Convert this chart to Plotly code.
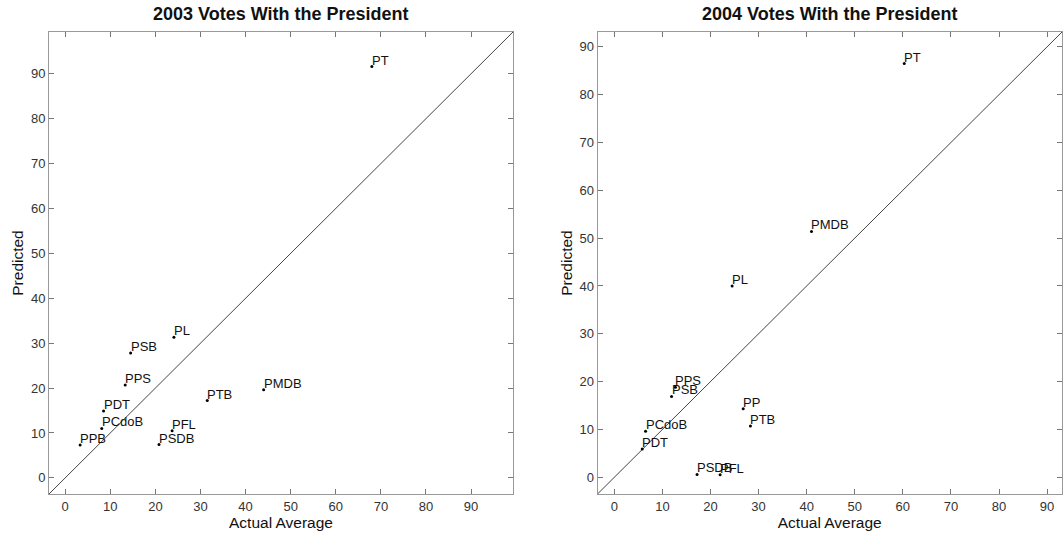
import plotly.graph_objects as go

# 2003 data
parties_2003 = ["PT", "PL", "PSB", "PPS", "PDT", "PCdoB", "PPB", "PSDB", "PFL", "PTB", "PMDB"]
actual_2003 = [68.0, 24.1, 14.5, 13.3, 8.5, 8.1, 3.3, 20.8, 23.7, 31.5, 44.0]
pred_2003 = [91.6, 31.3, 27.8, 20.7, 14.9, 11.0, 7.3, 7.4, 10.5, 17.2, 19.6]

# 2004 data
parties_2004 = ["PT", "PMDB", "PL", "PPS", "PSB", "PP", "PTB", "PCdoB", "PDT", "PSDB", "PFL"]
actual_2004 = [60.3, 41.0, 24.5, 12.7, 11.9, 26.8, 28.3, 6.5, 5.8, 17.2, 22.0]
pred_2004 = [86.5, 51.4, 40.0, 18.8, 16.9, 14.3, 10.7, 9.6, 5.9, 0.6, 0.5]

range_2003 = [-3.6, 99.3]
range_2004 = [-3.5, 93.1]
tick_vals = [0, 10, 20, 30, 40, 50, 60, 70, 80, 90]

titles = ["2003 Votes With the President", "2004 Votes With the President"]

FONT = "Liberation Sans, Arial, sans-serif"
W, H = 1063, 535
ML, MR, MT, MB = 49, 1, 32, 41
PW = W - ML - MR

fig = go.Figure()

for i, (names, xs, ys, rng) in enumerate([
    (parties_2003, actual_2003, pred_2003, range_2003),
    (parties_2004, actual_2004, pred_2004, range_2004),
]):
    xa = "x" if i == 0 else "x2"
    ya = "y" if i == 0 else "y2"
    fig.add_trace(go.Scatter(
        x=rng, y=rng, mode="lines", xaxis=xa, yaxis=ya,
        line=dict(color="#444444", width=1), hoverinfo="skip", showlegend=False,
    ))
    fig.add_trace(go.Scatter(
        x=xs, y=ys, mode="markers", xaxis=xa, yaxis=ya,
        marker=dict(color="black", size=3),
        showlegend=False, text=names,
    ))
    for n, xv, yv in zip(names, xs, ys):
        fig.add_annotation(
            x=xv, y=yv, xref=xa, yref=ya, text=n, showarrow=False,
            xanchor="left", yanchor="bottom", xshift=-2, yshift=-3,
            font=dict(family=FONT, size=13, color="#111111"),
        )

axis_common = dict(
    showgrid=False, zeroline=False, showline=True, linecolor="#999999", linewidth=1,
    mirror="ticks", ticks="inside", ticklen=5, tickcolor="#777777", automargin=False,
    tickvals=tick_vals, tickfont=dict(family=FONT, size=13, color="#333333"),
)

dom_x1 = [0, (513 - ML) / PW]
dom_x2 = [(597.5 - ML) / PW, 1]

title_font = dict(family=FONT, size=15.5, color="#111111")

fig.update_layout(
    width=W, height=H,
    margin=dict(l=ML, r=MR, t=MT, b=MB),
    paper_bgcolor="white", plot_bgcolor="white",
    xaxis=dict(domain=dom_x1, range=range_2003, anchor="y",
               title=dict(text="Actual Average", font=title_font, standoff=1),
               **axis_common),
    yaxis=dict(domain=[0, 1], range=range_2003, anchor="x",
               title=dict(text="Predicted", font=title_font, standoff=3),
               **axis_common),
    xaxis2=dict(domain=dom_x2, range=range_2004, anchor="y2",
                title=dict(text="Actual Average", font=title_font, standoff=1),
                **axis_common),
    yaxis2=dict(domain=[0, 1], range=range_2004, anchor="x2",
                title=dict(text="Predicted", font=title_font, standoff=3),
                **axis_common),
)

for dom, t in zip([dom_x1, dom_x2], titles):
    fig.add_annotation(
        x=(dom[0] + dom[1]) / 2, y=1, yshift=18, xref="paper", yref="paper",
        text="<b>" + t + "</b>", showarrow=False, xanchor="center", yanchor="middle",
        font=dict(family=FONT, size=18, color="#111111"),
    )

fig.write_html("out.html", config={"displayModeBar": False},
               post_script="document.body.style.margin='0';")
